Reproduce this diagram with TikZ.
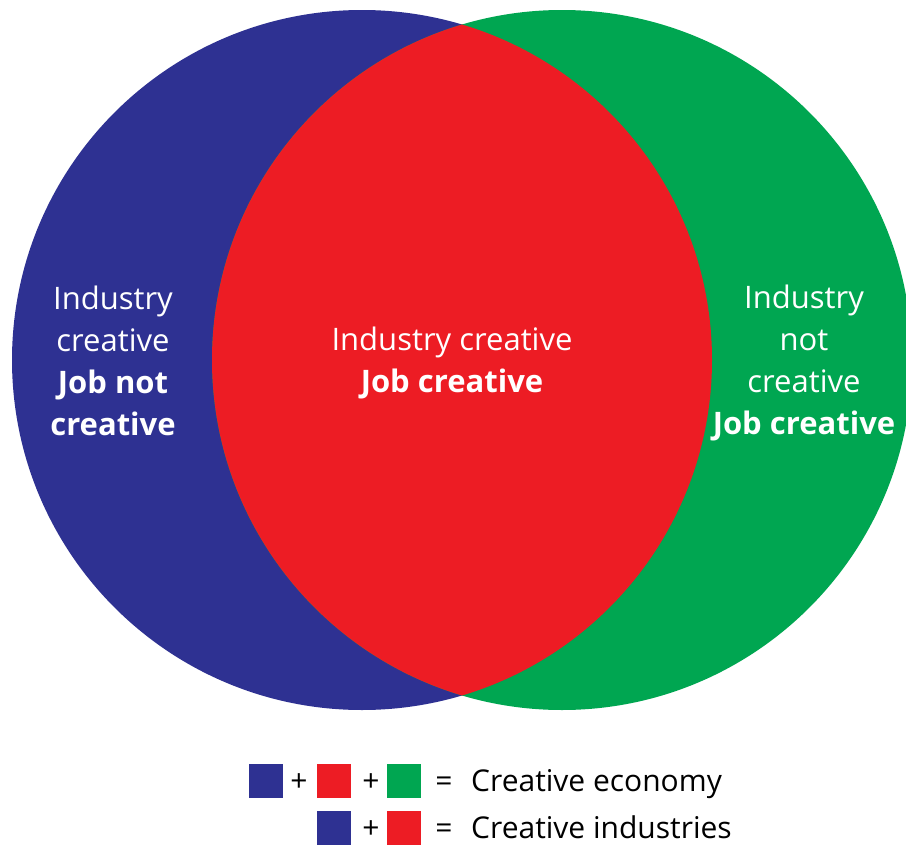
\documentclass[tikz,border=0pt]{standalone}
\usepackage{fontspec}
\setmainfont{Open Sans}
\definecolor{vblue}{HTML}{2E3192}
\definecolor{vred}{HTML}{ED1C24}
\definecolor{vgreen}{HTML}{00A651}
\begin{document}
\begin{tikzpicture}[x=1pt,y=-1pt,
  ctext/.style={text=white,font=\fontsize{31}{42}\selectfont,align=center,inner sep=0pt},
  sq/.style={minimum size=34pt,inner sep=0pt,draw=none},
  ltext/.style={font=\fontsize{30}{34}\selectfont,inner sep=0pt,anchor=base west},
  op/.style={font=\fontsize{30}{34}\selectfont,inner sep=0pt,anchor=base}]
\useasboundingbox (0,0) rectangle (906,846);
\fill[vblue] (362,360) circle (350);
\fill[vgreen] (562,360) circle (350);
\begin{scope}
  \clip (362,360) circle (350);
  \fill[vred] (562,360) circle (350);
\end{scope}
\node[ctext] (left) at (113,361) {Industry\\creative\\\textbf{Job not}\\\textbf{creative}};
\node[ctext] (mid) at (452,363) {Industry creative\\\textbf{Job creative}};
\node[ctext] (right) at (804,363) {Industry\\not\\creative\\\textbf{Job creative}};
% legend row 1
\node[sq,fill=vblue] (b1) at (266,781) {};
\node[op] (p1) at (299,791) {+};
\node[sq,fill=vred] (r1) at (334,781) {};
\node[op] (p2) at (371,791) {+};
\node[sq,fill=vgreen] (g1) at (404,781) {};
\node[op] (e1) at (444,791) {=};
\node[ltext] (t1) at (471,791) {Creative economy};
% legend row 2
\node[sq,fill=vblue] (b2) at (334,828) {};
\node[op] (p3) at (371,838) {+};
\node[sq,fill=vred] (r2) at (404,828) {};
\node[op] (e2) at (444,838) {=};
\node[ltext] (t2) at (471,838) {Creative industries};
\end{tikzpicture}
\end{document}
